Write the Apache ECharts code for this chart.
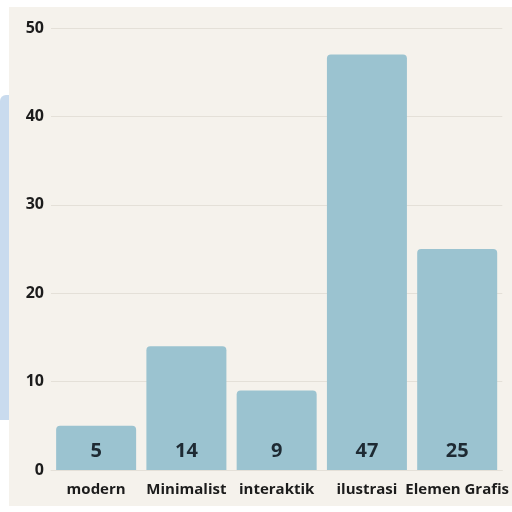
<!DOCTYPE html>
<html><head><meta charset="utf-8">
<script src="https://cdn.jsdelivr.net/npm/echarts@6/dist/echarts.min.js"></script>
<style>html,body{margin:0;padding:0;background:#fff}#c{width:512px;height:512px}</style>
</head><body><div id="c"></div>
<script>
const categories = ['modern', 'Minimalist', 'interaktik', 'ilustrasi', 'Elemen Grafis'];
const values = [5, 14, 9, 47, 25];
const yTicks = [0, 10, 20, 30, 40, 50];

const chart = echarts.init(document.getElementById('c'));
const font = '"Open Sans", "Noto Sans", sans-serif';
chart.setOption({
  backgroundColor: '#ffffff',
  animation: false,
  graphic: [
    {type: 'rect', z: -10, shape: {x: 9, y: 7, width: 503, height: 499}, style: {fill: '#f5f2ec'}},
    {type: 'rect', z: -10, shape: {x: 0, y: 95, width: 9, height: 325, r: [6, 0, 0, 0]}, style: {fill: '#c9dbee'}}
  ],
  grid: {left: 51, right: 9, top: 28, bottom: 42},
  xAxis: {
    type: 'category',
    data: categories,
    axisTick: {show: false},
    axisLine: {show: true, lineStyle: {color: '#e4e0d8'}},
    axisLabel: {color: '#1c1c1c', fontFamily: font, fontWeight: 'bold', fontSize: 15, margin: 12, interval: 0}
  },
  yAxis: {
    type: 'value',
    min: 0, max: 50, interval: 10,
    axisLine: {show: false},
    axisTick: {show: false},
    splitLine: {lineStyle: {color: '#e4e0d8', width: 1}},
    axisLabel: {color: '#1c1c1c', fontFamily: font, fontWeight: 'bold', fontSize: 16, margin: 7,
      formatter: v => yTicks.includes(v) ? String(v) : ''}
  },
  series: [{
    type: 'bar',
    data: values,
    barWidth: 80,
    itemStyle: {color: '#9bc3d0', borderRadius: [4, 4, 0, 0]},
    label: {show: true, position: 'insideBottom', distance: 9, color: '#1e2a33',
      fontFamily: font, fontWeight: 'bold', fontSize: 20}
  }]
});
</script></body></html>
